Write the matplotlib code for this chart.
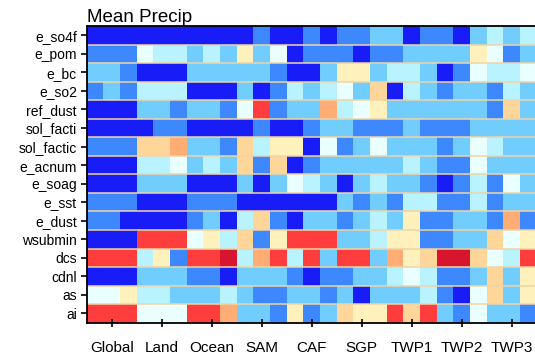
import numpy as np
import matplotlib
matplotlib.use("Agg")
import matplotlib.pyplot as plt
from matplotlib.colors import ListedColormap, BoundaryNorm

plt.rcParams["font.family"] = ["Liberation Sans", "DejaVu Sans"]

TITLE = "Mean Precip"

REGIONS = ["Global", "Land", "Ocean", "SAM", "CAF", "SGP", "TWP1", "TWP2", "TWP3"]
CELLS_PER_REGION = 3

PARAMS = ["e_so4f", "e_pom", "e_bc", "e_so2", "ref_dust", "sol_facti",
          "sol_factic", "e_acnum", "e_soag", "e_sst", "e_dust", "wsubmin",
          "dcs", "cdnl", "as", "ai"]

# colour class per cell, from most negative (D) to most positive (K)
LEVEL_KEYS = "DMLCWYOPRK"
LEVEL_COLORS = ["#181cf7", "#3d87ff", "#72cdff", "#b8f3ff", "#eaffff",
                "#fff1bc", "#ffd699", "#ffac75", "#ff3d3d", "#d8152f"]

CELLS = [
    "DDDDDDDDD" "DMDDMDMML" "LDMMDLCLC",
    "MMMWCCLCL" "YLWDMMMDM" "MLLLLYWML",
    "LLMDDDLLL" "LLMDDLYYL" "CCLDMWCCW",
    "MLMCCCDDD" "LDMCLCWLO" "DCLMLLMCL",
    "DDDLLMLLM" "WRMLLPCWY" "LLLLLLMOL",
    "DDDDMMDDD" "DMDDMLLMM" "MLMMMLLLL",
    "MMMOOPLLM" "OCYYDWMLW" "LLLMLWCLL",
    "DDDCCWLCL" "OMODMLLLL" "LCLMMWLLL",
    "DDDLLLDDD" "LDLWCLDLC" "LLMDMCMWL",
    "MMMDDDMMM" "DDDDDDLML" "MCCMMCMLL",
    "MMDDDDMLD" "COMDLLMLC" "LYMMLLMPM",
    "DDDRRRWYC" "OMYRRRLLC" "YYMMLLOWY",
    "RRRCYMRRK" "CPRCRLRRL" "PYOKKOWCR",
    "DDDLLLMMD" "LLLMDMMLL" "CWCMMLOLY",
    "WWYCCLLLC" "LMMLLMLDL" "LLCMDWOLY",
    "RRRWWWRRP" "LLMYMLOYY" "RORLMWLLM",
]


def build_grid():
    return np.array([[LEVEL_KEYS.index(c) for c in row] for row in CELLS])


def draw(grid):
    fig = plt.figure(figsize=(5.35, 3.58), dpi=100)
    ax = fig.add_axes([86.7 / 535, 35.3 / 358, 450 / 535, 296.7 / 358])

    cmap = ListedColormap(LEVEL_COLORS)
    norm = BoundaryNorm(np.arange(len(LEVEL_COLORS) + 1) - 0.5, cmap.N)
    nrows, ncols = grid.shape
    ax.pcolormesh(np.arange(ncols + 1), np.arange(nrows + 1), grid,
                  cmap=cmap, norm=norm)
    ax.hlines(np.arange(1, nrows), 0, ncols, color="#f0d4a6", linewidth=1.1)

    ax.set_xlim(0, ncols)
    ax.set_ylim(nrows, 0)

    ax.set_xticks(np.arange(len(REGIONS)) * CELLS_PER_REGION + CELLS_PER_REGION / 2)
    ax.set_xticklabels(REGIONS, fontsize=11)
    ax.set_yticks(np.arange(nrows) + 0.5)
    ax.set_yticklabels(PARAMS, fontsize=10)
    ax.tick_params(axis="x", direction="inout", length=6, width=1.2, pad=10)
    ax.tick_params(axis="y", direction="out", length=4, width=1.2, pad=3)

    for side in ["top", "bottom", "left", "right"]:
        ax.spines[side].set_linewidth(1.3)

    ax.set_title(TITLE, loc="left", fontsize=13.5, pad=3)

    fig.savefig("out.png", dpi=100)
    plt.close(fig)


def main():
    grid = build_grid()
    draw(grid)


if __name__ == "__main__":
    main()
